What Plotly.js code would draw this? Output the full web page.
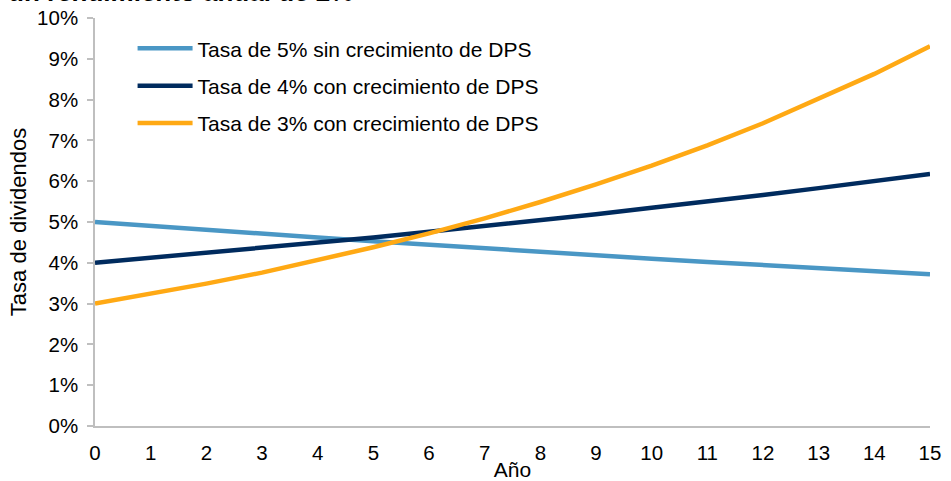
<!DOCTYPE html>
<html>
<head>
<meta charset="utf-8">
<script src="https://cdn.plot.ly/plotly-3.0.1.min.js"></script>
<style>html,body{margin:0;padding:0;background:#fff;}#chart{width:951px;height:481px;}</style>
</head>
<body>
<div id="chart"></div>
<script>
const years = [0,1,2,3,4,5,6,7,8,9,10,11,12,13,14,15];
const seriesNames = [
  "Tasa de 5% sin crecimiento de DPS",
  "Tasa de 4% con crecimiento de DPS",
  "Tasa de 3% con crecimiento de DPS"
];
const tasa5 = [5.00,4.90,4.81,4.71,4.62,4.53,4.44,4.35,4.27,4.18,4.10,4.02,3.94,3.87,3.79,3.72];
const tasa4 = [4.00,4.12,4.24,4.36,4.49,4.62,4.76,4.90,5.04,5.19,5.35,5.50,5.66,5.83,6.00,6.18];
const tasa3 = [3.00,3.24,3.49,3.76,4.06,4.38,4.72,5.09,5.49,5.92,6.38,6.88,7.42,8.01,8.63,9.31];
const yTicks = [0,1,2,3,4,5,6,7,8,9,10];
const titleText = "un rendimiento anual de 2%";

const colors = ["#4A97C5", "#002B5E", "#FFA914"];
const data = [tasa5, tasa4, tasa3].map((vals, i) => ({
  x: years, y: vals, type: "scatter", mode: "lines",
  name: seriesNames[i], legendgroup: "g" + i,
  line: {color: colors[i], width: 4.5}
}));

const fam = "Liberation Sans, Arial, sans-serif";
const layout = {
  width: 951, height: 481,
  margin: {l: 95, r: 21, t: 18, b: 55},
  paper_bgcolor: "#fff", plot_bgcolor: "#fff",
  font: {family: fam, size: 20, color: "#000"},
  annotations: [{
    text: "<b>" + titleText + "</b>", xref: "paper", yref: "paper",
    x: -0.107, y: 1, xanchor: "left", yanchor: "middle", yshift: 26, showarrow: false,
    font: {family: fam, size: 26, color: "#000"}
  }],
  showlegend: true,
  legend: {x: 0.045, y: 0.975, xanchor: "left", yanchor: "top", bgcolor: "rgba(0,0,0,0)",
           font: {size: 21}, itemwidth: 55, tracegroupgap: 7},
  xaxis: {range: [0, 15], tickvals: years, ticktext: years.map(String), showgrid: false, zeroline: false,
          showline: true, linecolor: "#BFBFBF", linewidth: 1.5, ticks: "", tickfont: {size: 20.5},
          ticklabelstandoff: 8,
          title: {text: "Año", font: {size: 21}, standoff: 2}},
  yaxis: {range: [0, 10], tickvals: yTicks, ticktext: yTicks.map(v => v + "%"), showgrid: false, zeroline: false,
          showline: true, linecolor: "#BFBFBF", linewidth: 1.5, ticks: "outside", ticklen: 6,
          tickcolor: "#BFBFBF", tickwidth: 1.5, tickfont: {size: 20.5}, ticklabelstandoff: 5,
          title: {text: "Tasa de dividendos", font: {size: 22}, standoff: 4}}
};
Plotly.newPlot("chart", data, layout, {displayModeBar: false});
</script>
</body>
</html>
